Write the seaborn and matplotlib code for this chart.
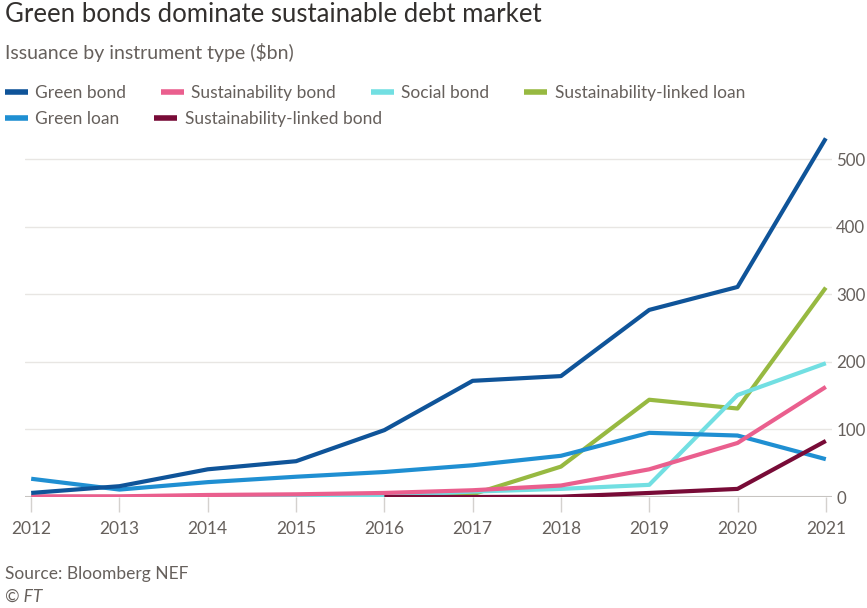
import matplotlib
matplotlib.use("Agg")
import matplotlib.pyplot as plt
import seaborn as sns
import pandas as pd
import numpy as np

years = list(range(2012, 2022))

green_bond = [6, 16, 41, 53, 99, 172, 179, 277, 311, 531]
green_loan = [27, 11, 22, 30, 37, 47, 61, 95, 91, 56]
sustainability_bond = [1, 1, 3, 4, 6, 10, 17, 41, 80, 163]
social_bond = [0, 0, 1, 1, 2, 8, 12, 18, 151, 198]
sl_loan = [0, 0, 0, 0, 0, 4, 45, 144, 131, 310]
sl_bond = [np.nan, np.nan, np.nan, np.nan, 0, 0, 0.5, 6, 12, 83]

series = {
    "Green bond": green_bond,
    "Sustainability bond": sustainability_bond,
    "Social bond": social_bond,
    "Sustainability-linked loan": sl_loan,
    "Green loan": green_loan,
    "Sustainability-linked bond": sl_bond,
}
colors = {
    "Green bond": "#0f5499",
    "Sustainability bond": "#ea5f8e",
    "Social bond": "#72dfe2",
    "Sustainability-linked loan": "#97b941",
    "Green loan": "#1f8fd2",
    "Sustainability-linked bond": "#780b37",
}
# stacking order of the lines (last drawn on top)
draw_order = ["Sustainability-linked loan", "Social bond", "Green loan",
              "Sustainability-linked bond", "Sustainability bond", "Green bond"]

df = pd.DataFrame(
    [(y, name, v) for name, vals in series.items() for y, v in zip(years, vals)],
    columns=["year", "type", "value"],
)

sns.set_theme(style="white")
plt.rcParams["font.family"] = ["Lato", "DejaVu Sans"]

TEXT = "#66605c"
fig = plt.figure(figsize=(8.67, 6.08), dpi=100)
fig.patch.set_facecolor("white")
ax = fig.add_axes([25 / 867, 1 - 497 / 608, (832 - 25) / 867, (497 - 137) / 608])

for name in draw_order:
    sub = df[df["type"] == name]
    sns.lineplot(data=sub, x="year", y="value", color=colors[name], lw=3,
                 ax=ax, label=name, solid_capstyle="butt")
if ax.get_legend():
    ax.get_legend().remove()

ax.set_xlim(2011.93, 2021.07)
ax.set_ylim(0, 533)
ax.set_xticks(years)
ax.set_xticklabels([str(y) for y in years])
ax.set_yticks([0, 100, 200, 300, 400, 500])
ax.yaxis.tick_right()
ax.grid(axis="y", color="#e8e6e3", lw=1)
ax.set_axisbelow(True)
for s in ax.spines.values():
    s.set_visible(False)
ax.axhline(0, color="#c7c4c1", lw=1.5, zorder=1)
ax.tick_params(axis="x", length=11, width=1, color="#d4d1ce", direction="out",
               pad=6, labelsize=12.5, labelcolor=TEXT, bottom=True)
ax.tick_params(axis="y", length=0, pad=3, labelsize=12.2, labelcolor=TEXT,
               right=False, labelright=True)
ax.set_xlabel("")
ax.set_ylabel("")

row1 = ["Green bond", "Sustainability bond", "Social bond", "Sustainability-linked loan"]
row2 = ["Green loan", "Sustainability-linked bond"]
leg_kw = dict(frameon=False, fontsize=12.5, handlelength=1.3, handletextpad=0.45,
              columnspacing=2.0, borderpad=0, borderaxespad=0, labelcolor=TEXT,
              loc="center left")
proxies = {n: plt.Line2D([], [], color=colors[n], lw=4, solid_capstyle="butt") for n in series}
fig.legend([proxies[n] for n in row1], row1, ncol=4,
           bbox_to_anchor=(5 / 867, 1 - 93 / 608), **leg_kw)
fig.legend([proxies[n] for n in row2], row2, ncol=2,
           bbox_to_anchor=(5 / 867, 1 - 119 / 608), **leg_kw)

fig.text(5 / 867, 1 - 15 / 608, "Green bonds dominate sustainable debt market",
         fontsize=18.5, color="#33302e", va="center", ha="left")
fig.text(5 / 867, 1 - 53 / 608, "Issuance by instrument type ($bn)",
         fontsize=14, color=TEXT, va="center", ha="left")
fig.text(5 / 867, 1 - 574 / 608, "Source: Bloomberg NEF",
         fontsize=12.5, color=TEXT, va="center", ha="left")
fig.text(5 / 867, 1 - 597 / 608, "© FT", fontsize=12.5, color=TEXT,
         va="center", ha="left", style="italic")

fig.savefig("out.png", dpi=100, facecolor="white")
